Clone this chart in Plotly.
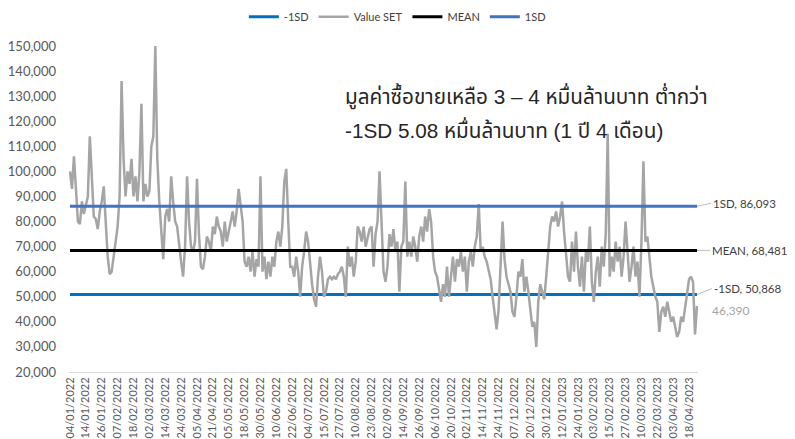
import pandas as pd
import plotly.graph_objects as go

# SET exchange holidays (non-trading weekdays) in the period
holidays = ["2022-01-03", "2022-02-16", "2022-04-06", "2022-04-13", "2022-04-14", "2022-04-15",
            "2022-05-02", "2022-05-04", "2022-05-16", "2022-06-03", "2022-07-13", "2022-07-28",
            "2022-07-29", "2022-08-12", "2022-10-13", "2022-10-14", "2022-10-24", "2022-12-05",
            "2022-12-12", "2023-01-02", "2023-03-06", "2023-04-06", "2023-04-13", "2023-04-14"]

# Daily SET trading value (thousand million baht -> scaled below)
value_set_k = [
    100, 93, 106, 95, 80, 79, 88, 83,
    86, 90, 114, 98, 82, 81, 77, 84,
    88, 94, 80, 66, 59, 60, 66, 72,
    78, 90, 136, 105, 90, 100, 95, 105,
    90, 98, 88, 100, 127, 88, 95, 90,
    92, 110, 114, 150, 105, 88, 75, 65,
    82, 85, 80, 98, 88, 80, 78, 70,
    64, 58, 70, 98, 80, 70, 68, 72,
    97, 75, 62, 61, 66, 74, 72, 68,
    78, 75, 82, 78, 76, 70, 80, 72,
    76, 80, 84, 78, 84, 93, 86, 80,
    64, 62, 66, 60, 68, 58, 65, 62,
    98, 60, 66, 57, 64, 58, 66, 62,
    72, 76, 70, 78, 96, 101, 80, 62,
    62, 58, 66, 60, 50, 62, 68, 76,
    72, 62, 55, 49, 46, 58, 66, 60,
    50, 52, 57, 58, 57, 58, 57, 59,
    60, 62, 58, 50, 70, 62, 66, 58,
    64, 78, 76, 72, 78, 70, 74, 77,
    78, 62, 75, 80, 100, 82, 60, 56,
    62, 75, 70, 77, 68, 72, 52, 70,
    72, 96, 66, 72, 66, 74, 70, 64,
    74, 78, 72, 82, 76, 85, 80, 66,
    60, 58, 52, 48, 55, 50, 62, 50,
    58, 66, 56, 65, 62, 68, 60, 66,
    52, 64, 68, 62, 70, 74, 87, 68,
    70, 66, 64, 60, 57, 50, 42, 37,
    45, 60, 80, 65, 58, 55, 52, 44,
    42, 50, 60, 58, 65, 52, 58, 52,
    45, 38, 40, 30, 48, 55, 52, 49,
    58, 68, 78, 82, 80, 84, 78, 82,
    88, 76, 66, 58, 56, 72, 60, 76,
    62, 54, 66, 52, 68, 64, 78, 56,
    48, 60, 66, 54, 70, 62, 75, 115,
    58, 66, 60, 72, 64, 70, 58, 66,
    80, 68, 56, 62, 70, 58, 64, 50,
    72, 104, 72, 74, 66, 58, 54, 50,
    48, 36, 44, 46, 42, 48, 44, 40,
    42, 38, 34, 36, 42, 40, 46, 50,
    57, 58, 56, 35, 46.39,
]
value_set = [round(v * 1000) for v in value_set_k]

mean_val = 68481
sd_plus = 86093
sd_minus = 50868

tick_labels = ["04/01/2022", "14/01/2022", "26/01/2022", "07/02/2022", "18/02/2022", "02/03/2022",
               "14/03/2022", "24/03/2022", "05/04/2022", "21/04/2022", "05/05/2022", "18/05/2022",
               "30/05/2022", "10/06/2022", "22/06/2022", "04/07/2022", "15/07/2022", "27/07/2022",
               "10/08/2022", "23/08/2022", "02/09/2022", "14/09/2022", "26/09/2022", "06/10/2022",
               "20/10/2022", "02/11/2022", "14/11/2022", "24/11/2022", "07/12/2022", "20/12/2022",
               "30/12/2022", "12/01/2023", "24/01/2023", "03/02/2023", "15/02/2023", "27/02/2023",
               "10/03/2023", "22/03/2023", "03/04/2023", "18/04/2023"]

y_ticks = list(range(20000, 150001, 10000))

bd = pd.bdate_range("2022-01-04", "2023-06-30")
bd = [d for d in bd if d.strftime("%Y-%m-%d") not in holidays]
dates = [d.strftime("%d/%m/%Y") for d in bd[:len(value_set)]]
n = len(dates)

fig = go.Figure()
fig.add_trace(go.Scatter(x=dates, y=[sd_minus] * n, mode="lines", name="-1SD",
                         line=dict(color="#0070C0", width=3)))
fig.add_trace(go.Scatter(x=dates, y=value_set, mode="lines", name="Value SET",
                         line=dict(color="#A5A5A5", width=2.5)))
fig.add_trace(go.Scatter(x=dates, y=[mean_val] * n, mode="lines", name="MEAN",
                         line=dict(color="#000000", width=3)))
fig.add_trace(go.Scatter(x=dates, y=[sd_plus] * n, mode="lines", name="1SD",
                         line=dict(color="#4472C4", width=3)))

last = dates[-1]
lab_font = dict(family="Lato, Open Sans, sans-serif", size=11.5, color="#404040")
fig.add_annotation(x=last, y=sd_plus, text=f"1SD, {sd_plus:,}", showarrow=True, ax=14, ay=-3,
                   xanchor="left", arrowhead=0, arrowcolor="#BFBFBF", arrowwidth=1, standoff=0,
                   font=lab_font)
fig.add_annotation(x=last, y=mean_val, text=f"MEAN, {mean_val:,}", showarrow=True, ax=13, ay=0,
                   xanchor="left", arrowhead=0, arrowcolor="#BFBFBF", arrowwidth=1, standoff=0,
                   font=lab_font)
fig.add_annotation(x=last, y=sd_minus, text=f"-1SD, {sd_minus:,}", showarrow=True, ax=15, ay=-6,
                   xanchor="left", arrowhead=0, arrowcolor="#BFBFBF", arrowwidth=1, standoff=0,
                   font=lab_font)
fig.add_annotation(x=last, y=value_set[-1], text=f"{value_set[-1]:,}", showarrow=False,
                   xanchor="left", xshift=13, yshift=-5,
                   font=dict(family="Lato, Open Sans, sans-serif", size=12, color="#A5A5A5"))

thai_font = dict(family="Arial, Liberation Sans, Noto Sans Thai, Noto Sans, sans-serif",
                 size=20.7, color="#262626")
fig.add_annotation(xref="paper", yref="paper", x=0.4356, y=0.845, xanchor="left", yanchor="middle",
                   text="มูลค่าซื้อขายเหลือ 3 – 4 หมื่นล้านบาท ต่ำกว่า", showarrow=False, font=thai_font)
fig.add_annotation(xref="paper", yref="paper", x=0.4356, y=0.745, xanchor="left", yanchor="middle",
                   text="-1SD 5.08 หมื่นล้านบาท (1 ปี 4 เดือน)", showarrow=False, font=thai_font)

# page body adds an 8px offset, so the figure is sized 8px smaller to fit the window
fig.update_layout(
    width=787, height=431,
    margin=dict(l=61, r=97, t=38, b=67, autoexpand=False),
    paper_bgcolor="white", plot_bgcolor="white",
    font=dict(family="Lato, Open Sans, sans-serif", color="#595959"),
    showlegend=True,
    legend=dict(orientation="h", x=0.522, xanchor="center", y=1.09, yanchor="middle",
                font=dict(size=11, color="#404040"), itemwidth=30, tracegroupgap=0),
    xaxis=dict(type="category", tickmode="array", tickvals=tick_labels, ticktext=tick_labels,
               tickangle=-90, showline=True, linecolor="#D9D9D9", linewidth=1,
               showgrid=False, zeroline=False, ticks="", range=[-0.5, n - 0.5],
               tickfont=dict(size=11, color="#595959")),
    yaxis=dict(range=[20000, 150000], tickmode="array", tickvals=y_ticks, tickformat=",",
               showgrid=False, zeroline=False, showline=False, ticks="",
               ticklabelstandoff=12, tickfont=dict(size=13, color="#595959")),
)

fig.write_html("out.html")
